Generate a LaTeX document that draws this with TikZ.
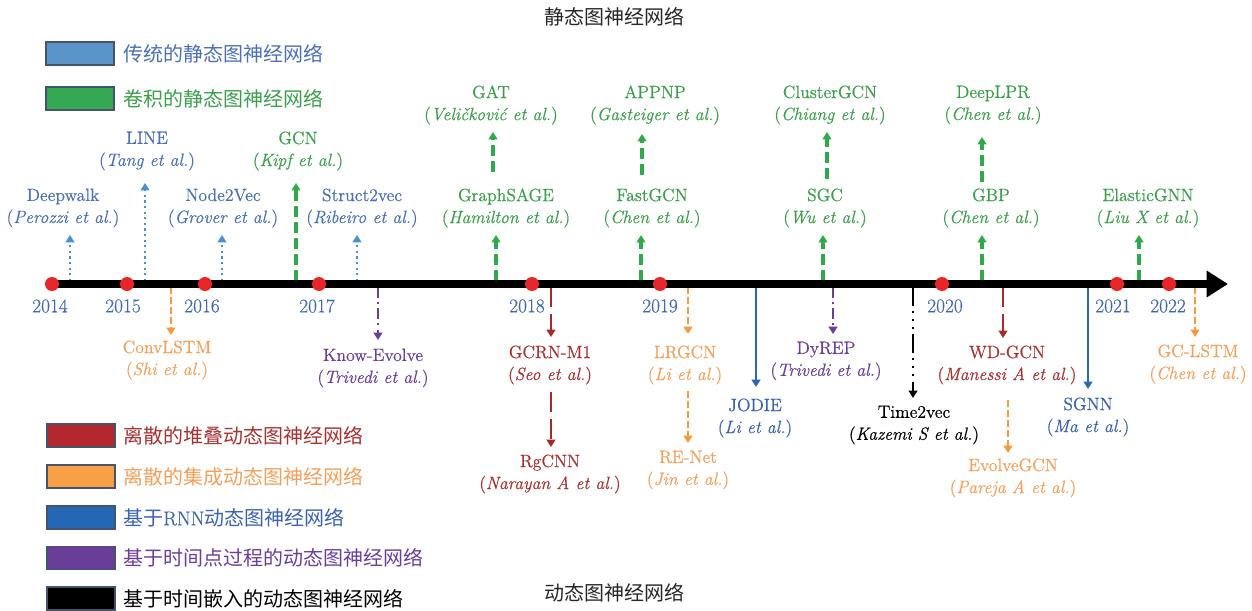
\documentclass[tikz,border=0pt]{standalone}
\usepackage{fontspec}
\setmainfont{Latin Modern Roman}[FakeBold=0.5, ItalicFeatures={FakeBold=0.5}]
\newfontfamily\cjk{Noto Sans CJK SC}
\usetikzlibrary{arrows.meta}
\definecolor{cTitle}{HTML}{262626}
\definecolor{cYear}{HTML}{3F68B0}
\definecolor{cSBlueT}{HTML}{4A6FB5}
\definecolor{cSBlueA}{HTML}{4A90CF}
\definecolor{cSBlueBox}{HTML}{5A94C8}
\definecolor{cGreenT}{HTML}{3A9F4A}
\definecolor{cGreenA}{HTML}{2EAA4A}
\definecolor{cGreenBox}{HTML}{35A853}
\definecolor{cRedT}{HTML}{A8302F}
\definecolor{cRedA}{HTML}{A52A2E}
\definecolor{cRedBox}{HTML}{B2282E}
\definecolor{cOrT}{HTML}{F4A05A}
\definecolor{cOrA}{HTML}{F79A3E}
\definecolor{cOrBox}{HTML}{F8A045}
\definecolor{cRnnT}{HTML}{3A62AE}
\definecolor{cRnnA}{HTML}{2C66B5}
\definecolor{cRnnBox}{HTML}{2467B3}
\definecolor{cPurT}{HTML}{6A3D9A}
\definecolor{cPurA}{HTML}{6A3D9A}
\definecolor{cPurBox}{HTML}{693E98}
\definecolor{cDot}{HTML}{E8262A}
\definecolor{cBorder}{HTML}{44546A}
\newcommand\mlab[2]{#1\\(\textit{#2})}
\begin{document}
\begin{tikzpicture}[x=0.75pt,y=-0.75pt,
  tip/.style={-{Triangle[length=5.5pt,width=6.5pt]}},
  lab/.style={align=center, font=\fontsize{13.3}{16.5}\selectfont, inner sep=0pt},
  yearlab/.style={font=\fontsize{14.5}{16}\selectfont, text=cYear, inner sep=0pt},
  yeardot/.style={circle, fill=cDot, minimum size=10.5pt, inner sep=0pt},
  legbox/.style={draw=cBorder, line width=1.1pt, minimum width=51pt, minimum height=17.3pt, inner sep=0pt},
  legtext/.style={anchor=west, font=\fontsize{15}{18}\selectfont\cjk, inner sep=0pt},
  titletext/.style={font=\fontsize{15}{18}\selectfont\cjk, text=cTitle, inner sep=0pt},
  tradarrow/.style={tip, draw=cSBlueA, line width=1.8pt, dash pattern=on 1.6pt off 2.6pt},
  convarrow/.style={tip, draw=cGreenA, line width=2.3pt, dash pattern=on 8pt off 4pt},
  stackarrow/.style={tip, draw=cRedA, line width=2.2pt, dash pattern=on 15pt off 5pt},
  ensarrow/.style={tip, draw=cOrA, line width=1.9pt, dash pattern=on 5pt off 2.5pt},
  rnnarrow/.style={tip, draw=cRnnA, line width=1.6pt},
  tpparrow/.style={tip, draw=cPurA, line width=2pt, dash pattern=on 8pt off 3pt on 1.5pt off 3.5pt},
  embarrow/.style={tip, draw=black, line width=2pt, dash pattern=on 14pt off 4pt on 1.5pt off 4.5pt on 1.5pt off 4.5pt on 1.5pt off 4pt},
  tradlab/.style={lab, text=cSBlueT},
  convlab/.style={lab, text=cGreenT},
  stacklab/.style={lab, text=cRedT},
  enslab/.style={lab, text=cOrT},
  rnnlab/.style={lab, text=cRnnT},
  tpplab/.style={lab, text=cPurT},
  emblab/.style={lab, text=black}]
\useasboundingbox (0,0) rectangle (1252,610);

% titles
\node[titletext] (ttop) at (614,17) {静态图神经网络};
\node[titletext] (tbot) at (614,593) {动态图神经网络};

% legends
\node[legbox, fill=cSBlueBox] (lb1) at (80,53.5) {};
\node[legtext, text=cSBlueT] (lt1) at (123,53.5) {传统的静态图神经网络};
\node[legbox, fill=cGreenBox] (lb2) at (80,98.5) {};
\node[legtext, text=cGreenT] (lt2) at (123,98.5) {卷积的静态图神经网络};
\node[legbox, fill=cRedBox] (lb3) at (81,435.5) {};
\node[legtext, text=cRedT] (lt3) at (123,435.5) {离散的堆叠动态图神经网络};
\node[legbox, fill=cOrBox] (lb4) at (81,476.5) {};
\node[legtext, text=cOrT] (lt4) at (123,476.5) {离散的集成动态图神经网络};
\node[legbox, fill=cRnnBox] (lb5) at (81,517.5) {};
\node[legtext, text=cRnnT] (lt5) at (123,517.5) {基于{\rmfamily RNN}动态图神经网络};
\node[legbox, fill=cPurBox] (lb6) at (81,558) {};
\node[legtext, text=cPurT] (lt6) at (123,558) {基于时间点过程的动态图神经网络};
\node[legbox, fill=black] (lb7) at (81,598.5) {};
\node[legtext, text=black] (lt7) at (123,598.5) {基于时间嵌入的动态图神经网络};

% static labels
\node[tradlab] (deepwalk) at (63,208) {\mlab{Deepwalk}{Perozzi et al.}};
\node[tradlab] (line) at (147,151) {\mlab{LINE}{Tang et al.}};
\node[tradlab] (node2vec) at (223,208) {\mlab{Node2Vec}{Grover et al.}};
\node[convlab] (gcn) at (298,151) {\mlab{GCN}{Kipf et al.}};
\node[tradlab] (struct2vec) at (362,208) {\mlab{Struct2vec}{Ribeiro et al.}};
\node[convlab] (graphsage) at (506,208) {\mlab{GraphSAGE}{Hamilton et al.}};
\node[convlab] (gat) at (491,105) {\mlab{GAT}{Veličković et al.}};
\node[convlab] (fastgcn) at (652,208) {\mlab{FastGCN}{Chen et al.}};
\node[convlab] (appnp) at (655,105) {\mlab{APPNP}{Gasteiger et al.}};
\node[convlab] (sgc) at (825,208) {\mlab{SGC}{Wu et al.}};
\node[convlab] (clustergcn) at (830,105) {\mlab{ClusterGCN}{Chiang et al.}};
\node[convlab] (gbp) at (991,208) {\mlab{GBP}{Chen et al.}};
\node[convlab] (deeplpr) at (993,105) {\mlab{DeepLPR}{Chen et al.}};
\node[convlab] (elasticgnn) at (1148,208) {\mlab{ElasticGNN}{Liu X et al.}};

% dynamic labels
\node[enslab] (convlstm) at (167,360) {\mlab{ConvLSTM}{Shi et al.}};
\node[tpplab] (knowevolve) at (373,368) {\mlab{Know-Evolve}{Trivedi et al.}};
\node[stacklab] (gcrn) at (550,365) {\mlab{GCRN-M1}{Seo et al.}};
\node[stacklab] (rgcnn) at (550,474) {\mlab{RgCNN}{Narayan A et al.}};
\node[enslab] (lrgcn) at (685,365) {\mlab{LRGCN}{Li et al.}};
\node[enslab] (renet) at (688,470) {\mlab{RE-Net}{Jin et al.}};
\node[rnnlab] (jodie) at (755,418) {\mlab{JODIE}{Li et al.}};
\node[tpplab] (dyrep) at (826,361) {\mlab{DyREP}{Trivedi et al.}};
\node[emblab] (time2vec) at (914,425) {\mlab{Time2vec}{Kazemi S et al.}};
\node[stacklab] (wdgcn) at (1007,365) {\mlab{WD-GCN}{Manessi A et al.}};
\node[enslab] (evolvegcn) at (1013,478) {\mlab{EvolveGCN}{Pareja A et al.}};
\node[rnnlab] (sgnn) at (1088,417) {\mlab{SGNN}{Ma et al.}};
\node[enslab] (gclstm) at (1198,364) {\mlab{GC-LSTM}{Chen et al.}};

% arrow end points
\coordinate (a-deepwalk-s) at (70,281);   \coordinate (a-deepwalk-e) at (70,235);
\coordinate (a-line-s) at (145,281);      \coordinate (a-line-e) at (145,183);
\coordinate (a-node2vec-s) at (222,281);  \coordinate (a-node2vec-e) at (222,235);
\coordinate (a-gcn-s) at (296,281);       \coordinate (a-gcn-e) at (296,183);
\coordinate (a-struct-s) at (357,281);    \coordinate (a-struct-e) at (357,235);
\coordinate (a-sage-s) at (496,281);      \coordinate (a-sage-e) at (496,235);
\coordinate (a-gat-s) at (493,172);       \coordinate (a-gat-e) at (493,132);
\coordinate (a-fast-s) at (641,281);      \coordinate (a-fast-e) at (641,235);
\coordinate (a-appnp-s) at (642,175);     \coordinate (a-appnp-e) at (642,134);
\coordinate (a-sgc-s) at (823,281);       \coordinate (a-sgc-e) at (823,235);
\coordinate (a-cluster-s) at (827,179);   \coordinate (a-cluster-e) at (827,132);
\coordinate (a-gbp-s) at (982,281);       \coordinate (a-gbp-e) at (982,235);
\coordinate (a-deeplpr-s) at (982,182);   \coordinate (a-deeplpr-e) at (982,137);
\coordinate (a-elastic-s) at (1139,281);  \coordinate (a-elastic-e) at (1139,235);

\coordinate (a-convlstm-s) at (171,287);  \coordinate (a-convlstm-e) at (171,335);
\coordinate (a-know-s) at (378,287);      \coordinate (a-know-e) at (378,340);
\coordinate (a-gcrn-s) at (551,287);      \coordinate (a-gcrn-e) at (551,337);
\coordinate (a-rgcnn-s) at (551,392);     \coordinate (a-rgcnn-e) at (551,447);
\coordinate (a-lrgcn-s) at (688,287);     \coordinate (a-lrgcn-e) at (688,334);
\coordinate (a-renet-s) at (688,391);     \coordinate (a-renet-e) at (688,443);
\coordinate (a-jodie-s) at (756,287);     \coordinate (a-jodie-e) at (756,387);
\coordinate (a-dyrep-s) at (833,287);     \coordinate (a-dyrep-e) at (833,334);
\coordinate (a-time-s) at (913,287);      \coordinate (a-time-e) at (913,398);
\coordinate (a-wdgcn-s) at (1003,287);    \coordinate (a-wdgcn-e) at (1003,338);
\coordinate (a-evolve-s) at (1008,400);   \coordinate (a-evolve-e) at (1008,453);
\coordinate (a-sgnn-s) at (1088,287);     \coordinate (a-sgnn-e) at (1088,389);
\coordinate (a-gclstm-s) at (1195,287);   \coordinate (a-gclstm-e) at (1195,337);

% static arrows
\draw[tradarrow] (a-deepwalk-s) -- (a-deepwalk-e);
\draw[tradarrow] (a-line-s) -- (a-line-e);
\draw[tradarrow] (a-node2vec-s) -- (a-node2vec-e);
\draw[convarrow] (a-gcn-s) -- (a-gcn-e);
\draw[tradarrow] (a-struct-s) -- (a-struct-e);
\draw[convarrow] (a-sage-s) -- (a-sage-e);
\draw[convarrow] (a-gat-s) -- (a-gat-e);
\draw[convarrow] (a-fast-s) -- (a-fast-e);
\draw[convarrow] (a-appnp-s) -- (a-appnp-e);
\draw[convarrow] (a-sgc-s) -- (a-sgc-e);
\draw[convarrow] (a-cluster-s) -- (a-cluster-e);
\draw[convarrow] (a-gbp-s) -- (a-gbp-e);
\draw[convarrow] (a-deeplpr-s) -- (a-deeplpr-e);
\draw[convarrow] (a-elastic-s) -- (a-elastic-e);

% dynamic arrows
\draw[ensarrow] (a-convlstm-s) -- (a-convlstm-e);
\draw[tpparrow] (a-know-s) -- (a-know-e);
\draw[stackarrow] (a-gcrn-s) -- (a-gcrn-e);
\draw[stackarrow] (a-rgcnn-s) -- (a-rgcnn-e);
\draw[ensarrow] (a-lrgcn-s) -- (a-lrgcn-e);
\draw[ensarrow] (a-renet-s) -- (a-renet-e);
\draw[rnnarrow] (a-jodie-s) -- (a-jodie-e);
\draw[tpparrow] (a-dyrep-s) -- (a-dyrep-e);
\draw[embarrow] (a-time-s) -- (a-time-e);
\draw[stackarrow] (a-wdgcn-s) -- (a-wdgcn-e);
\draw[ensarrow] (a-evolve-s) -- (a-evolve-e);
\draw[rnnarrow] (a-sgnn-s) -- (a-sgnn-e);
\draw[ensarrow] (a-gclstm-s) -- (a-gclstm-e);

% axis
\coordinate (axis-s) at (46,284);
\coordinate (axis-e) at (1228,284);
\draw[line width=6pt, -{Triangle[length=16pt,width=19pt]}] (axis-s) -- (axis-e);

% year dots and labels
\foreach \yr/\xd/\xl in {2014/52/50, 2015/127/123, 2016/205/202, 2017/319/317, 2018/532/527, 2019/660/660, 2020/942/945, 2021/1117/1113, 2022/1169/1168} {
  \node[yeardot] (d\yr) at (\xd,284) {};
  \node[yearlab] (y\yr) at (\xl,306) {\yr};
}
\end{tikzpicture}
\end{document}
